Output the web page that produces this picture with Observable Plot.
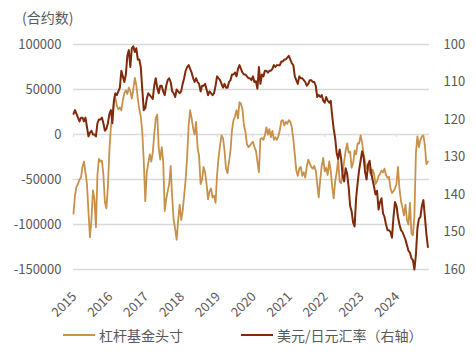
<!DOCTYPE html>
<html><head><meta charset="utf-8">
<script src="https://cdn.jsdelivr.net/npm/d3@7"></script>
<script src="https://cdn.jsdelivr.net/npm/@observablehq/plot@0.6"></script>
<style>
body{margin:0;background:#fff;font-family:"Noto Sans CJK SC","Noto Sans",sans-serif;}
#wrap{position:relative;width:476px;height:354px;overflow:hidden;}
#chart{position:absolute;left:0;top:0;}
#title{position:absolute;left:22px;top:7px;font-size:14px;color:#595959;}
.leg{position:absolute;top:325px;font-size:14px;color:#595959;display:flex;align-items:center;white-space:nowrap;}
.leg i{display:inline-block;width:32px;height:2px;margin-right:4px;}
</style></head>
<body>
<div id="wrap">
<div id="chart"></div>
<div id="title">(合约数)</div>
<div class="leg" style="left:63px"><i style="background:#C8914A"></i>杠杆基金头寸</div>
<div class="leg" style="left:241px"><i style="background:#7F2A0A"></i>美元/日元汇率（右轴）</div>
</div>
<script>
// Semi-monthly readings, 2015 .. Nov 2024
const years = [2015,2016,2017,2018,2019,2020,2021,2022,2023,2024];
const leftTicks = [100000,50000,0,-50000,-100000,-150000];
const rightTicks = [100,110,120,130,140,150,160];

// Leveraged funds JPY net position (contracts)
const gold = [
 -88000,-68000,-58000,-55000,-50000,-48000,-36000,-30000,-42000,-55000,-85000,-114000,-95000,-62000,-72000,-103000,-45000,-27000,-30000,-29000,-45000,-75000,-82000,-58000,
 -18000,8000,22000,35000,41000,32000,28000,30000,27000,38000,46000,49000,45000,52000,48000,40000,50000,63000,55000,40000,28000,20000,2000,-30000,
 -74000,-42000,-32000,-22000,-30000,-20000,0,18000,22000,-15000,-28000,-14000,-30000,-85000,-72000,-63000,-55000,-35000,-70000,-95000,-105000,-117000,-95000,-78000,
 -95000,-85000,-68000,-50000,-25000,10000,27000,18000,7000,0,14000,-15000,-24000,-55000,-50000,-36000,-42000,-55000,-72000,-63000,-60000,-70000,-68000,-76000,
 -45000,-26000,-12000,-1000,-4000,-18000,-38000,-43000,-30000,-18000,5000,16000,20000,27000,18000,36000,34000,28000,10000,3000,-11000,-14000,-12000,-10000,
 -8000,-14000,-18000,-30000,-42000,-5000,-4000,-6000,-1000,8000,0,6000,-3000,4000,-6000,-3000,-6000,-2000,5000,15000,16000,10000,14000,12000,
 16000,14000,8000,-5000,-22000,-40000,-46000,-38000,-36000,-46000,-42000,-48000,-36000,-28000,-32000,-36000,-38000,-35000,-40000,-55000,-70000,-50000,-35000,-26000,
 -41000,-37000,-45000,-30000,-40000,-58000,-71000,-52000,-42000,-28000,-52000,-54000,-43000,-30000,-18000,-10000,-20000,-19000,-37000,-32000,-18000,-22000,-10000,-10000,
 -1000,-9000,-22000,-30000,-38000,-34000,-41000,-45000,-39000,-44000,-55000,-52000,-46000,-44000,-40000,-42000,-38000,-45000,-48000,-47000,-60000,-65000,-63000,-60000,
 -55000,-36000,-60000,-74000,-81000,-90000,-78000,-95000,-100000,-76000,-110000,-112000,-90000,-20000,-2000,-14000,-6000,-2000,-1000,-12000,-33000,-30000
];

// USD/JPY (right axis, reversed)
const usdjpy = [
 118.5,117.5,118.5,119.5,120.5,119.5,119.5,120.5,119.5,122,124.5,123.5,123,124,124,124.5,121,120,120,119.5,121,123,122.5,121,
 118.5,117.5,121,115,113,113.5,112.5,111.5,107,108.5,110,108,103,101.5,106,101,100.5,102,101,104,104,106,112,117.5,
 117,114.5,113,113.5,114,114.5,111,109,111.5,113,111,111,112.5,113.5,111,109.5,109,110,112.5,113,114,112,112.5,113,
 112.5,110.5,109,107,106,105.5,106.5,107.5,109,110,109,110,110.5,112.5,111,111,110.5,112,113.5,112.5,113,113.5,113,111,
 108.5,109,109.5,110.5,111.5,110.5,111.5,111.5,110,109.5,108,108,107.5,108.5,106.5,105.5,106.5,107.5,108,108,108.5,109,109,109.5,
 108.5,110,109.8,111.8,106,110.5,108,108.5,107,107,107.5,107,107,106.5,105.5,106,105.5,105.5,105.5,104.5,104.5,104,104,103.5,
 103,104,105,105.5,108.5,109.5,110.5,108.5,109,109,109.5,110,111,110.5,109.5,109.5,110,110,111,114,113.5,114,113.5,115,
 115.5,114,115,115.5,115,119,122.5,125,129,130.5,128,130.5,135,136.5,133,134.5,138,143,144.5,147.5,148.5,141,137,133.5,
 131,128.5,130,134,136,132,131,134,136,138,140,139,144,142,141,145,146,148,149.5,149.5,150,151.5,146,142,
 143,146,148,149.5,150,151,152,153.5,155,155.5,157,157.5,160,156,149,146.5,146,143,141.5,146,150.5,154
];

const toLeft = r => 100000 - (r - 100) * 250000 / 60;
const fromLeft = v => 100 + (100000 - v) * 60 / 250000;

const goldData = gold.map((v, i) => ({t: 2015 + i / 24, v}));
const fxData = usdjpy.map((r, i) => ({t: 2015 + i / 24, v: toLeft(r)}));

const chart = Plot.plot({
  width: 476,
  height: 354,
  marginTop: 44,
  marginBottom: 85,
  marginLeft: 73,
  marginRight: 47,
  x: {domain: [2015, 2024.92]},
  y: {domain: [-150000, 100000]},
  style: {fontFamily: '"Noto Sans CJK SC","Noto Sans",sans-serif', fontSize: "13px", color: "#595959", background: "transparent"},
  marks: [
    Plot.ruleY(leftTicks, {stroke: "#d9d9d9", strokeWidth: 1.5}),
    Plot.ruleX(years, {y1: 0, y2: -3500, stroke: "#d9d9d9", strokeWidth: 1}),
    Plot.axisY({ticks: leftTicks, tickSize: 0, tickPadding: 12, tickFormat: d => String(d), label: null}),
    Plot.axisY({anchor: "right", ticks: rightTicks.map(toLeft), tickSize: 0, tickPadding: 14, tickFormat: v => String(Math.round(fromLeft(v))), label: null}),
    Plot.axisX({ticks: years, tickSize: 0, tickPadding: 8, dy: 17, dx: 1, tickRotate: -45, tickFormat: d => String(d), label: null}),
    Plot.line(goldData, {x: "t", y: "v", stroke: "#C8914A", strokeWidth: 1.8}),
    Plot.line(fxData, {x: "t", y: "v", stroke: "#7F2A0A", strokeWidth: 2})
  ]
});
document.getElementById("chart").appendChild(chart);
</script>
</body></html>
